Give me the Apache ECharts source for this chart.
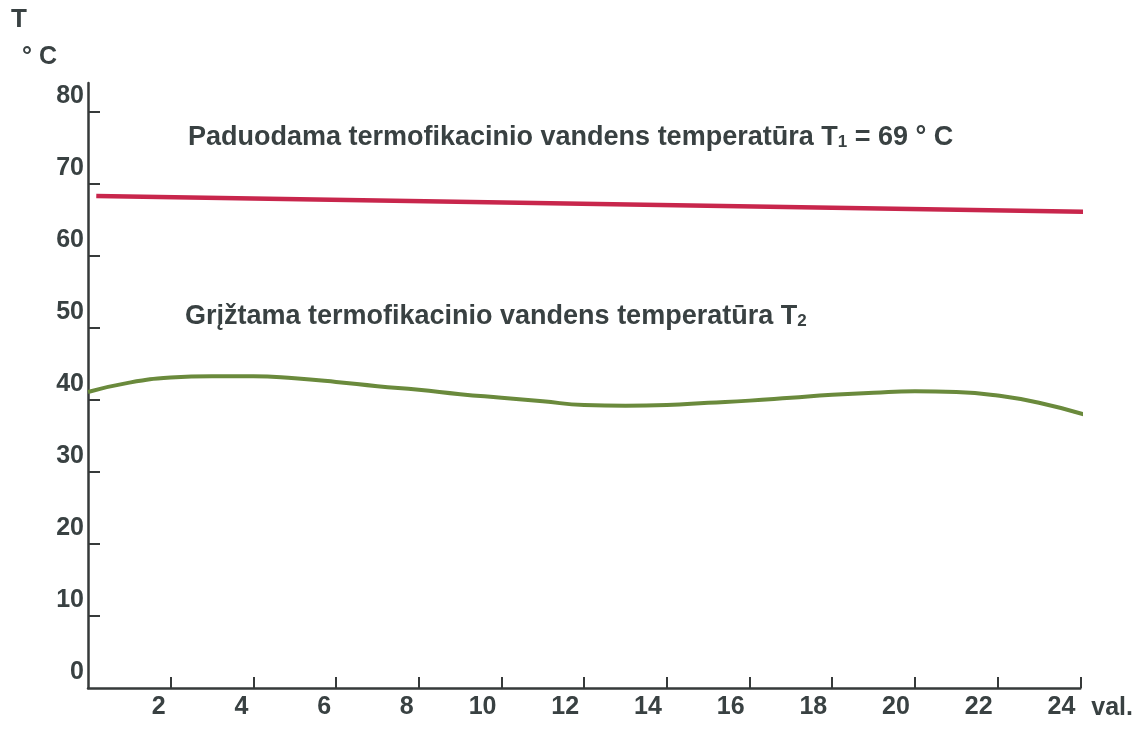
<!DOCTYPE html>
<html>
<head>
<meta charset="utf-8">
<script src="https://cdn.jsdelivr.net/npm/echarts@6/dist/echarts.min.js"></script>
<style>
    html, body { margin: 0; padding: 0; background: #fff; }
    #chart { width: 1136px; height: 731px; }
</style>
</head>
<body>
<div id="chart"></div>
<script>
// hours of the day (x) and temperatures
var returnHours = [0, 1, 2, 3, 4, 5, 6, 7, 8, 9, 10, 11, 12, 13, 14, 15, 16, 17, 18, 19, 20, 21, 22, 23, 24.2];
var returnTemp = [41.1, 42.4, 43.1, 43.3, 43.3, 43.0, 42.5, 41.9, 41.4, 40.8, 40.3, 39.8, 39.3, 39.2, 39.3, 39.6, 39.9, 40.3, 40.7, 41.0, 41.2, 41.1, 40.6, 39.6, 37.8];
var supplyHours = [0.2, 24.4];
var supplyTemp = [68.3, 66.1];
var xTicks = [2, 4, 6, 8, 10, 12, 14, 16, 18, 20, 22, 24];
var yTicks = [10, 20, 30, 40, 50, 60, 70, 80];
var yLabels = [0, 10, 20, 30, 40, 50, 60, 70, 80];

var textColor = '#394142';
var axisColor = '#363a3a';
var font = 'Liberation Sans';

function pairs(xs, ys){
    var out = [];
    for(var i in xs){
        out.push([xs[i], ys[i]]);
    }
    return out;
}

var myChart = echarts.init(document.getElementById('chart'));

var richStyle = {
    a: { fontFamily: font, fontWeight: 'bold', fontSize: 27, color: textColor, lineHeight: 34, verticalAlign: 'bottom' },
    s: { fontFamily: font, fontWeight: 'bold', fontSize: 17, color: textColor, lineHeight: 22, verticalAlign: 'bottom' }
};

var option = {
    animation: false,
    backgroundColor: '#fff',
    grid: {
        left: 88,
        right: 54,
        top: 83,
        bottom: 43
    },
    xAxis: {
        type: 'value',
        min: 0,
        max: 24,
        interval: 2,
        splitLine: { show: false },
        axisLine: { show: true, lineStyle: { color: axisColor, width: 2.5 } },
        axisTick: {
            show: true,
            inside: true,
            length: 11,
            customValues: xTicks,
            lineStyle: { color: axisColor, width: 2 }
        },
        axisLabel: {
            customValues: xTicks,
            margin: 7,
            align: 'right',
            padding: [0, 5, 0, 0],
            color: textColor,
            fontFamily: font,
            fontWeight: 'bold',
            fontSize: 25
        },
        name: 'val.',
        nameLocation: 'end',
        nameGap: 11,
        nameTextStyle: {
            color: textColor,
            fontFamily: font,
            fontWeight: 'bold',
            fontSize: 25,
            align: 'left',
            verticalAlign: 'top',
            padding: [8, 0, 0, 0]
        }
    },
    yAxis: {
        type: 'value',
        min: 0,
        max: 84,
        interval: 10,
        splitLine: { show: false },
        axisLine: { show: true, lineStyle: { color: axisColor, width: 2.5 } },
        axisTick: {
            show: true,
            inside: true,
            length: 12,
            customValues: yTicks,
            lineStyle: { color: axisColor, width: 2 }
        },
        axisLabel: {
            customValues: yLabels,
            margin: 4,
            verticalAlign: 'bottom',
            padding: [0, 0, 3, 0],
            color: textColor,
            fontFamily: font,
            fontWeight: 'bold',
            fontSize: 25
        }
    },
    graphic: [
        {
            type: 'text',
            left: 11,
            top: 7,
            style: { text: 'T', fill: textColor, font: 'bold 26px ' + font }
        },
        {
            type: 'text',
            left: 22,
            top: 45,
            style: { text: '° C', fill: textColor, font: 'bold 25px ' + font }
        },
        {
            type: 'text',
            left: 188,
            top: 124,
            style: {
                text: '{a|Paduodama termofikacinio vandens temperatūra T}{s|1}{a| = 69 ° C}',
                fill: textColor,
                rich: richStyle
            }
        },
        {
            type: 'text',
            left: 185,
            top: 303,
            style: {
                text: '{a|Grįžtama termofikacinio vandens temperatūra T}{s|2}',
                fill: textColor,
                rich: richStyle
            }
        }
    ],
    series: [
        {
            name: 'T1',
            type: 'line',
            data: pairs(supplyHours, supplyTemp),
            showSymbol: false,
            clip: false,
            lineStyle: { color: '#c8264c', width: 4.5 }
        },
        {
            name: 'T2',
            type: 'line',
            data: pairs(returnHours, returnTemp),
            smooth: true,
            showSymbol: false,
            clip: false,
            lineStyle: { color: '#6a8a3c', width: 4 }
        }
    ]
};

myChart.setOption(option);
</script>
</body>
</html>
